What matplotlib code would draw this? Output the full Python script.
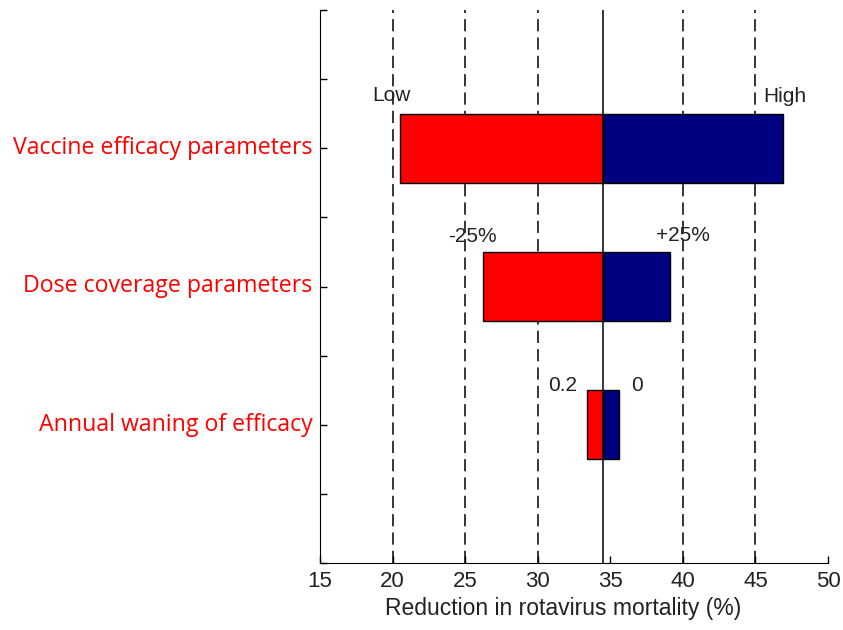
import matplotlib.pyplot as plt

# tornado chart: reduction in rotavirus mortality
params = ["Vaccine efficacy parameters", "Dose coverage parameters", "Annual waning of efficacy"]
base = 34.5
low_vals = [20.5, 26.2, 33.4]
high_vals = [46.9, 39.1, 35.6]
low_text = ["Low", "-25%", "0.2"]
high_text = ["High", "+25%", "0"]
y_pos = [6, 4, 2]
grid_x = [20, 25, 30, 40, 45]

# label anchors (x, baseline y) in data units
low_text_xy = [(19.9, 6.68), (25.5, 4.64), (31.75, 2.49)]
high_text_xy = [(47.0, 6.67), (40.0, 4.66), (36.85, 2.49)]

fig = plt.figure(figsize=(8.43, 6.30), dpi=100)
ax = fig.add_axes([320 / 843, 1 - 563 / 630, 508 / 843, 553 / 630])

for x in grid_x:
    ax.axvline(x, color="black", linestyle=(0, (8, 4)), linewidth=1.1, zorder=1)
ax.axvline(base, color="black", linewidth=1.1, zorder=3)

ax.barh(y_pos, [base - l for l in low_vals], left=low_vals,
        height=1.0, color="#ff0000", edgecolor="black", linewidth=1, zorder=2)
ax.barh(y_pos, [h - base for h in high_vals], left=base,
        height=1.0, color="#000080", edgecolor="black", linewidth=1, zorder=2)

# annotations above bars
for t, (x, y) in zip(low_text + high_text, low_text_xy + high_text_xy):
    ax.text(x, y, t, ha="center", va="baseline", fontsize=15,
            family="Liberation Sans", color="#222222")

ax.set_xlim(15, 50)
ax.set_ylim(0, 8)
ax.set_xticks(range(15, 51, 5))
ax.set_yticks(range(0, 9))
ax.set_yticklabels([])
ax.tick_params(direction="in", length=5, width=1)
ax.tick_params(axis="x", pad=6)
for lab in ax.get_xticklabels():
    lab.set_family("Liberation Sans")
    lab.set_fontsize(16)
    lab.set_color("#222222")
ax.spines["top"].set_visible(False)
ax.spines["right"].set_visible(False)
ax.set_xlabel("Reduction in rotavirus mortality (%)", fontsize=16.5,
              family="Liberation Sans", color="#222222", labelpad=3)
ax.xaxis.label.set_x(0.479)

for name, y in zip(params, y_pos):
    ax.text(-0.015, y / 8, name, transform=ax.transAxes, ha="right", va="center",
            color="#ff0000", fontsize=16.7, family="Open Sans")

fig.savefig("out.png", dpi=100)
